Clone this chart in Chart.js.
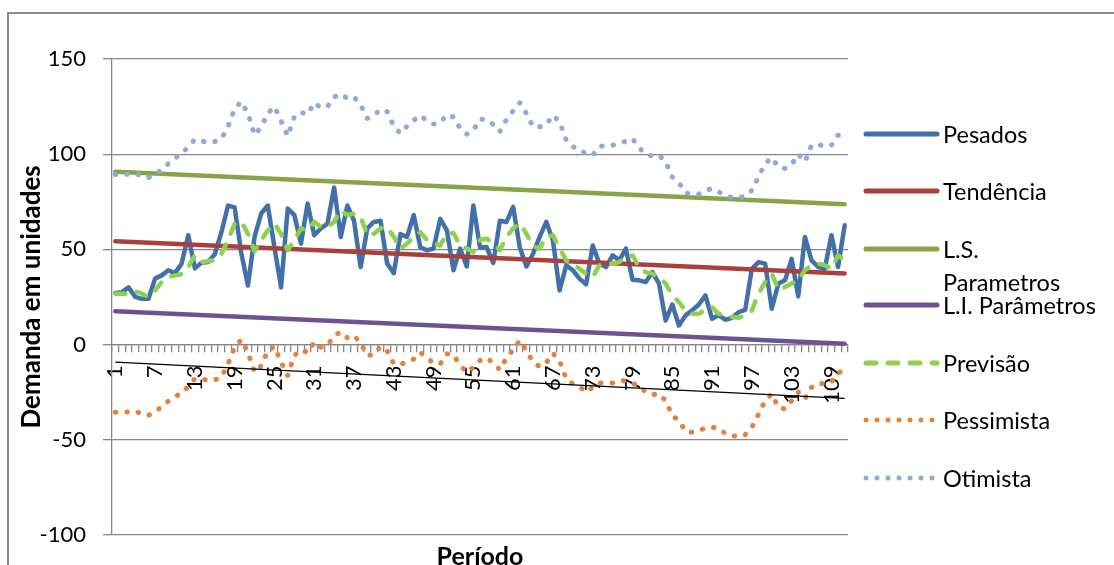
<!DOCTYPE html>
<html>
<head>
<meta charset="utf-8">
<script src="https://cdn.jsdelivr.net/npm/chart.js@4.4.1/dist/chart.umd.min.js"></script>
<style>
  body { margin: 0; background: #fff; }
  #caixa { position: relative; width: 1114px; height: 565px; overflow: hidden; font-family: Lato, sans-serif; }
  #moldura { position: absolute; left: 7px; top: 12px; width: 1200px; height: 600px; border-top: 2px solid #8c8c8c; border-left: 2px solid #8c8c8c; }
  #grafico { position: absolute; left: 0; top: 0; }
  .item { position: absolute; left: 862px; font-size: 23.5px; line-height: 33px; color: #000; }
  .item svg { position: absolute; left: 0; top: 11px; }
  .item span { position: absolute; left: 81px; top: 0; white-space: pre; }
  #titulo-x { position: absolute; left: 380px; width: 200px; text-align: center; top: 540px; font-weight: bold; font-size: 25px; }
</style>
</head>
<body>
<div id="caixa">
  <div id="moldura"></div>
  <canvas id="grafico" width="1114" height="565"></canvas>
  <div id="legenda"></div>
  <div id="titulo-x">Período</div>
</div>
<script>
const periodos = Array.from({ length: 111 }, (_, i) => String(i + 1));

const pesados = [
  27, 27.5, 30, 25, 24, 24, 34.6, 36.3, 39, 37.5,
  42.5, 57.4, 40, 43, 43.3, 47.4, 59, 73, 72, 48,
  31, 56.5, 68.8, 73, 51, 30, 71.4, 68, 53, 74,
  57.4, 61, 63.5, 82.5, 56.5, 73, 65, 40.7, 61, 64.4,
  65, 42.5, 37.5, 58, 56.5, 68, 51, 49.5, 50.4, 66,
  60, 39, 50.4, 41, 73, 51, 51.2, 42.8, 65, 64.4,
  72.3, 51, 41, 47.7, 56.5, 64.4, 54.7, 28.4, 41.6, 39,
  34.6, 31.6, 52, 42.5, 40.7, 46.8, 44.2, 50.4, 34, 33.7,
  32.8, 38, 32, 12.6, 21, 10, 15.3, 17.9, 21, 25.8,
  13.5, 15.3, 13, 14, 17, 18.2, 39.8, 43.3, 42.5, 18.8,
  32, 33.7, 45, 25.3, 56.5, 44.2, 40.7, 39.8, 57.4, 40.7,
  62.6
];

const previsao = [
  26.7, 26.7, 26.7, 28, 26.7, 25, 28.4, 32.8, 35.4, 36.3,
  37, 40.7, 46.8, 43.3, 43.9, 44.2, 47.7, 54.7, 63.5, 64.4,
  58.2, 49, 54.7, 60, 63.5, 58.2, 49.5, 54.7, 61, 60,
  64.4, 61.8, 61.8, 64.4, 70.5, 68, 68.8, 67, 57.4, 58.2,
  61, 61.8, 56.5, 50.4, 53, 56.5, 59, 55, 53, 52,
  58.2, 58.6, 52, 50.4, 48.6, 55, 55.6, 53, 49.5, 56.5,
  61, 63.5, 58.2, 51.6, 50.4, 56.5, 57.4, 50.4, 44.2, 42.5,
  39.8, 37.2, 35.4, 41.6, 42.5, 42.5, 43.3, 46, 46.8, 40.7,
  38, 37.2, 35.4, 32, 25.8, 22.3, 17.9, 16.1, 16.1, 18.2,
  19.6, 16.1, 15.3, 14.4, 14, 15.3, 17.9, 26.7, 32.8, 37.2,
  28.8, 30.2, 32, 33.7, 39, 41.6, 42.5, 41.6, 39.8, 46.8,
  44.2
];

const pessimista = [
  -35.6, -35.6, -35.4, -35, -36.5, -37.2, -35.4, -32.6, -29.8, -27.4,
  -25.6, -22, -18, -18, -19, -18.6, -17.2, -10.2, -1.4, 2.5,
  -4, -14.6, -11.2, -3.2, -1, -9.3, -16.3, -5.8, -2.8, -4.2,
  1.2, -1.4, -0.5, 4.7, 6.5, 3.5, 4.7, 0.7, -5.8, -5.3,
  -1, -3.5, -10.2, -10.4, -9.3, -7.7, -4.2, -7, -9.8, -10.2,
  -4.9, -5.4, -11, -14.6, -12, -8.4, -7, -9.8, -13.3, -7,
  -2.8, 2.1, -3.2, -9.3, -11.6, -9.6, -4.6, -8.8, -18, -20.7,
  -22.1, -25, -22.5, -20.2, -20.2, -20.2, -19.3, -19, -20.4, -21.9,
  -25, -26.3, -26, -29.5, -37.4, -40, -45.6, -46.1, -45.3, -43.9,
  -43.5, -43.9, -46.8, -47.9, -48.4, -47.4, -43.5, -36.8, -29.5, -26,
  -33, -33.9, -29.5, -25, -28.6, -22.5, -20.4, -20.7, -19.8, -14.9,
  -13.7
];

const otimista = [
  89.3, 89.3, 89.5, 90, 88.4, 87.7, 89.3, 92, 95, 98,
  100, 104, 107.7, 107, 106, 106.6, 108, 114.4, 124, 127.6,
  121.4, 110, 114.4, 121.4, 125, 117.5, 109.5, 119.6, 122, 120.9,
  127, 124.5, 125, 130, 131.6, 129.3, 130, 125.8, 118.8, 120.4,
  123.5, 122.3, 114.7, 110.9, 114.7, 117.9, 120.4, 117.5, 115.8, 116.5,
  120.7, 119.6, 113.5, 110.5, 112.6, 118.5, 118, 115.6, 111.8, 118.2,
  122.8, 127, 121.4, 114.4, 114.4, 115.4, 120.5, 117, 107.4, 103.9,
  102.8, 100, 99.5, 103.9, 104.7, 104.7, 105.6, 106.8, 108.2, 103.3,
  100, 99, 99.5, 96, 88, 85, 79.6, 78.8, 79, 81,
  81.8, 80.2, 78.4, 77.2, 77.2, 77.9, 81, 88, 95, 98.2,
  93.3, 92.5, 94.6, 100, 96, 104.7, 105, 104.2, 104.7, 110,
  110
];

// retas: valor no primeiro e no ultimo periodo
const tendencia = [54.2, 37.3];
const limiteSuperior = [90.7, 73.7];
const limiteInferior = [17.5, 0.4];
const retaPessimista = [-9.3, -28.3];

const ticksY = [-100, -50, 0, 50, 100, 150];

function reta(valores) {
  return [
    { x: periodos[0], y: valores[0] },
    { x: periodos[periodos.length - 1], y: valores[1] }
  ];
}

const series = [
  { nome: 'Pesados', texto: 'Pesados', dados: pesados, cor: '#4270a8', tipo: 'solida' },
  { nome: 'Tendência', texto: 'Tendência', dados: reta(tendencia), cor: '#a8403d', tipo: 'solida' },
  { nome: 'L.S. Parametros', texto: 'L.S.\nParametros', dados: reta(limiteSuperior), cor: '#87a547', tipo: 'solida' },
  { nome: 'L.I. Parâmetros', texto: 'L.I. Parâmetros', dados: reta(limiteInferior), cor: '#6d5291', tipo: 'solida' },
  { nome: 'Previsão', texto: 'Previsão', dados: previsao, cor: '#8ed14f', tipo: 'tracejada' },
  { nome: 'Pessimista', texto: 'Pessimista', dados: pessimista, cor: '#e3823e', tipo: 'pontilhada' },
  { nome: 'Otimista', texto: 'Otimista', dados: otimista, cor: '#8eaadb', tipo: 'pontilhada' }
];

const tracos = {
  solida: [],
  tracejada: [10, 12],
  pontilhada: [0.5, 11]
};

const datasets = series.map((s, i) => ({
  label: s.nome,
  data: s.dados,
  borderColor: s.cor,
  backgroundColor: s.cor,
  borderWidth: s.tipo === 'pontilhada' ? 5 : 4.5,
  borderDash: tracos[s.tipo],
  borderCapStyle: 'round',
  borderJoinStyle: 'round',
  pointRadius: 0,
  tension: 0,
  fill: false,
  order: series.length - i
}));

datasets.push({
  label: 'Linear (Pessimista)',
  data: reta(retaPessimista),
  borderColor: '#000',
  borderWidth: 1.3,
  pointRadius: 0,
  fill: false,
  order: -1
});

const fonte = { family: 'Lato', size: 22 };

new Chart(document.getElementById('grafico'), {
  type: 'line',
  data: { labels: periodos, datasets: datasets },
  options: {
    responsive: false,
    animation: false,
    layout: { padding: { left: 10, top: 59, right: 266, bottom: 30 } },
    plugins: {
      legend: { display: false },
      tooltip: { enabled: false }
    },
    scales: {
      x: {
        type: 'category',
        position: { y: 0 },
        offset: true,
        grid: {
          offset: true,
          drawOnChartArea: false,
          color: '#868686',
          lineWidth: 1.3,
          tickLength: 7
        },
        border: { color: '#868686', width: 1.3 },
        ticks: {
          autoSkip: false,
          minRotation: 90,
          maxRotation: 90,
          padding: 14,
          color: '#000',
          font: fonte,
          callback: function (valor, indice) {
            return indice % 6 === 0 ? periodos[indice] : '';
          }
        }
      },
      y: {
        min: ticksY[0],
        max: ticksY[ticksY.length - 1],
        afterBuildTicks: function (eixo) {
          eixo.ticks = ticksY.map(v => ({ value: v }));
        },
        afterFit: function (eixo) {
          eixo.width = 102;
        },
        grid: {
          color: '#868686',
          lineWidth: 1.3,
          tickLength: 9
        },
        border: { color: '#868686', width: 1.3 },
        ticks: {
          padding: 17,
          color: '#000',
          font: fonte
        },
        title: {
          display: true,
          text: 'Demanda em unidades',
          color: '#000',
          font: { family: 'Lato', size: 26, weight: 'bold' },
          padding: { top: 6, bottom: 0 }
        }
      }
    }
  }
});

// legenda a direita
const yLegenda = [134, 191, 249, 305, 363, 420, 478];
const legenda = document.getElementById('legenda');
series.forEach((s, i) => {
  const item = document.createElement('div');
  item.className = 'item';
  item.style.top = (yLegenda[i] - 16) + 'px';
  let traco = '';
  if (s.tipo === 'tracejada') traco = 'stroke-dasharray="10 12"';
  if (s.tipo === 'pontilhada') traco = 'stroke-dasharray="0 11"';
  item.innerHTML =
    '<svg width="80" height="10"><line x1="4" y1="5" x2="75" y2="5" stroke="' + s.cor +
    '" stroke-width="5" stroke-linecap="round" ' + traco + '/></svg>' +
    '<span></span>';
  item.querySelector('span').textContent = s.texto;
  legenda.appendChild(item);
});
</script>
</body>
</html>
